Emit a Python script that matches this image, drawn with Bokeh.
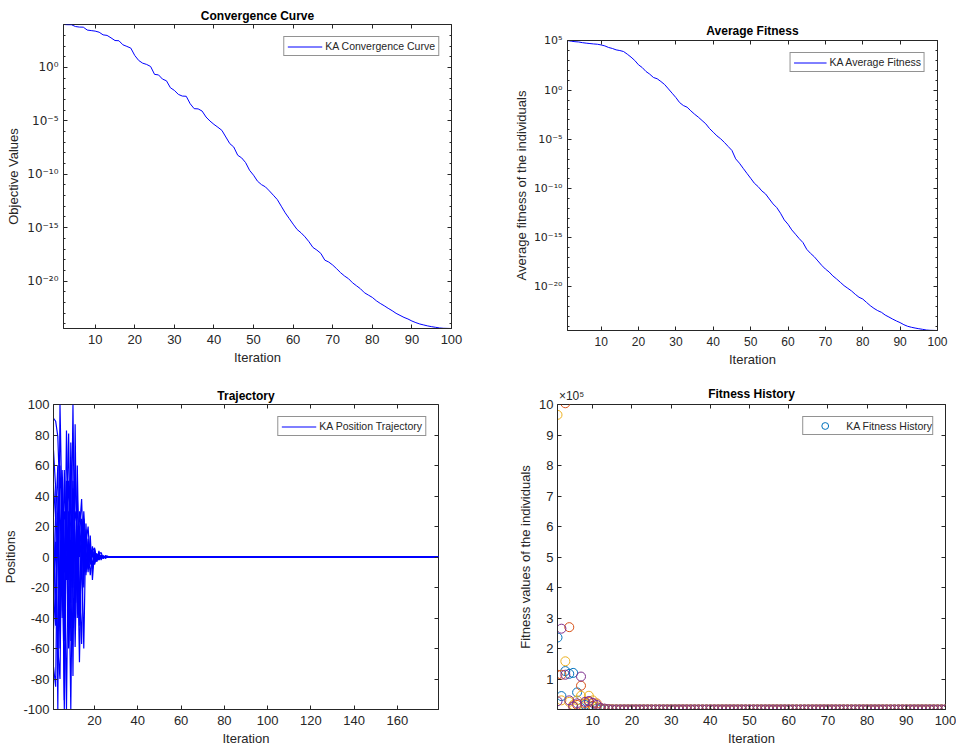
import numpy as np
from bokeh.plotting import figure
from bokeh.models import (Range1d, FixedTicker, LinearAxis, LogAxis, Legend, LegendItem, Spacer)
from bokeh.layouts import row, column
from bokeh.embed import file_html
from bokeh.resources import INLINE

# ---------------- data ----------------
# Convergence curve (best objective), iterations 2..100, log10 of value
conv_iter = list(range(2, 101))
conv_log10 = [4.02, 4.0, 4.0, 3.83, 3.78, 3.77, 3.5, 3.45, 3.4, 3.3, 3.05, 3.0, 2.77, 2.52,
              2.5, 2.12, 1.97, 1.81, 1.12, 0.65, 0.4, 0.28, 0.09, -0.65, -0.7, -1.09, -1.25,
              -1.9, -2.15, -2.52, -2.68, -2.7, -3.4, -3.86, -3.88, -4.08, -4.64, -5.02, -5.33,
              -5.6, -5.89, -6.51, -7.13, -7.45, -8.22, -8.47, -8.91, -9.63, -10.09, -10.65,
              -10.97, -11.18, -11.56, -11.96, -12.37, -12.99, -13.61, -14.14, -14.67, -15.17,
              -15.48, -15.86, -16.32, -16.85, -17.1, -17.41, -18.04, -18.22, -18.5, -18.85,
              -19.22, -19.53, -19.78, -20.16, -20.44, -20.72, -21.09, -21.31, -21.53, -21.84,
              -22.09, -22.31, -22.55, -22.77, -23.02, -23.21, -23.4, -23.55, -23.74, -23.89,
              -24.02, -24.11, -24.2, -24.27, -24.33, -24.39, -24.42, -24.43, -24.44]

# Average fitness, iterations 1..100, log10 of value
avg_iter = list(range(1, 101))
avg_log10 = [5.05, 4.98, 4.93, 4.9, 4.83, 4.78, 4.74, 4.7, 4.67, 4.6, 4.5, 4.34, 4.24, 4.1,
             4.03, 3.93, 3.66, 3.36, 3.02, 2.58, 2.3, 1.9, 1.63, 1.29, 1.16, 0.88, 0.57, 0.13,
             -0.31, -0.75, -1.26, -1.56, -1.73, -2.1, -2.44, -2.74, -3.08, -3.42, -3.9, -4.27,
             -4.65, -4.95, -5.32, -5.73, -6.13, -6.98, -7.42, -7.94, -8.45, -8.95, -9.46, -9.8,
             -10.24, -10.55, -11.06, -11.56, -11.94, -12.51, -13.19, -13.63, -14.2, -14.64,
             -15.09, -15.49, -16.17, -16.58, -16.92, -17.36, -17.8, -18.18, -18.48, -18.88,
             -19.19, -19.53, -19.87, -20.14, -20.41, -20.75, -21.05, -21.23, -21.57, -21.9,
             -22.18, -22.41, -22.58, -22.86, -23.06, -23.27, -23.46, -23.63, -23.84, -24.0,
             -24.1, -24.18, -24.25, -24.31, -24.38, -24.41, -24.42, -24.43]

# Trajectories (positions of agents), iterations 1..179; settled at 0 after the early phase
traj_iter = list(range(1, 180))
traj_early = [
    [91, 89, 79, 35, -25, 57, -15, 22, -30, 45, 12, -22, 18, 38, -6, 9, 20, -5, 4, 6, -2, 2, 3, -1, 1, 0.5, 0, 0],
    [70, 45, -100, 100, 25, -40, 83, 10, -100, 30, -59, 12, -69, 5, -60, 22, -8, 14, -15, 5, -3, 4, -2, 1, -1, 0.5, 0, 0],
    [47, 25, 60, -35, 30, -100, 15, 81, -20, 100, -30, 40, 0, 25, 10, -8, 12, -4, 7, -3, 2, -2, 1, -1, 0.5, 0, 0, 0],
    [-27, 30, 0, 60, 15, -94, 40, -15, 55, -78, 87, -40, 20, -10, 30, 5, -10, 8, -6, 3, -3, 1.5, -1, 0.5, 0, 0, 0, 0],
    [-47, -20, 25, -60, 57, 10, -100, 30, 20, -20, 57, 8, -30, 20, -10, 15, -5, 6, -8, 2, 2, -1, 1, 0, 0, 0, 0, 0],
    [-72, -85, 40, 20, -40, 30, 20, -45, 75, 20, -40, 60, -20, -57, 20, -10, 5, -12, 3, -5, 1, -2, 1, -0.5, 0, 0, 0, 0],
    [-20, 10, -60, -80, 45, -10, 50, -60, -20, 50, 10, -30, 30, 15, -20, 18, -6, 2, 5, -4, 2, -1, 0.5, 0, 0, 0, 0, 0],
    [20, -45, 15, -20, 30, -55, 25, 50, -55, -5, 30, 20, -45, 8, 25, -12, 8, -3, -6, 3, -1, 2, -1, 0.5, 0, 0, 0, 0],
]
traj_settled = 0.0

# Fitness history of 4 individuals, iterations 1..100 (first 15 read, then ~0)
fit_iter = list(range(1, 101))
fit_early = {
    "blue":   [236000, 44000, 126000, 117000, 120000, 56000, 5000, 15000, 2000, 10000, 3000, 1000, 500, 0, 0],
    "orange": [114000, 114000, 1004000, 270000, 10000, 15000, 78000, 20000, 25000, 12000, 20000, 5000, 2000, 1000, 0],
    "yellow": [966000, 30000, 158000, 25000, 15000, 30000, 45000, 10000, 45000, 30000, 10000, 5000, 2000, 1000, 500],
    "purple": [27000, 265000, 114000, 30000, 10000, 20000, 108000, 25000, 28000, 22000, 15000, 5000, 3000, 1000, 0],
}
fit_colors = {"blue": "#0072BD", "orange": "#D95319", "yellow": "#EDB120", "purple": "#7E2F8E"}

FONT = "Liberation Sans"
SUPFONT = "DejaVu Sans"
AX = "#262626"


def sup(n):
    table = str.maketrans("-0123456789", "⁻⁰¹²³⁴⁵⁶⁷⁸⁹")
    return "10" + str(n).translate(table)


def base_fig(width, height, left, right, top, bottom, x_range, y_range, log=False):
    p = figure(width=width, height=height, x_range=x_range, y_range=y_range,
               y_axis_type="log" if log else "linear", output_backend="svg",
               toolbar_location=None, tools="", title=None)
    p.min_border = 0
    p.min_border_left = left
    p.min_border_right = right
    p.min_border_top = top
    p.min_border_bottom = bottom
    p.background_fill_color = "white"
    p.border_fill_color = "white"
    p.outline_line_color = AX
    p.outline_line_width = 1
    p.xgrid.visible = False
    p.ygrid.visible = False
    return p


def style_axes(p, xticks, yticks, yminor, ylabel, ylabels, tick_font, title,
               title_standoff=2, log=False, ylab_font="13px", y_standoff=5, ylab_standoff=3,
               yfont=FONT, exp_label=None):
    xt = FixedTicker(ticks=xticks)
    yt = FixedTicker(ticks=yticks, minor_ticks=yminor)
    for ax in p.xaxis:
        ax.ticker = xt
        ax.axis_label = "Iteration"
        ax.major_label_overrides = {t: str(t) for t in xticks}
    for ax in p.yaxis:
        ax.ticker = yt
        ax.axis_label = ylabel
        ax.major_label_overrides = dict(zip(yticks, ylabels))
    for ax in list(p.xaxis) + list(p.yaxis):
        ax.axis_line_color = AX
        ax.major_tick_in = 4
        ax.major_tick_out = 0
        ax.minor_tick_in = 2
        ax.minor_tick_out = 0
        ax.major_tick_line_color = AX
        ax.major_label_text_font = FONT
        ax.major_label_text_font_size = tick_font
        ax.major_label_text_color = AX
        ax.axis_label_text_font = FONT
        ax.axis_label_text_font_style = "normal"
        ax.axis_label_text_color = AX
    for ax in p.xaxis:
        ax.minor_tick_line_color = None
        ax.major_label_standoff = 6
        ax.axis_label_standoff = 3
        ax.axis_label_text_font_size = "13px"
    for ax in p.yaxis:
        ax.minor_tick_line_color = AX if yminor else None
        ax.major_label_standoff = y_standoff
        ax.axis_label_standoff = ylab_standoff
        ax.axis_label_text_font_size = ylab_font
        ax.major_label_text_font = yfont

    # top: mirrored x ticks (drawn as minor ticks) + the title as the only labelled tick
    x0, x1 = p.x_range.start, p.x_range.end
    if exp_label is None:
        top_ticks, top_labels = [(x0 + x1) / 2], [title]
    else:
        top_ticks, top_labels = [exp_label[0]], [exp_label[1]]
    top = LinearAxis(ticker=FixedTicker(ticks=top_ticks, minor_ticks=xticks))
    top.major_label_overrides = dict(zip(top_ticks, top_labels))
    top.major_tick_line_color = None
    top.major_tick_in = 0
    top.major_tick_out = 0
    top.minor_tick_in = 4
    top.minor_tick_out = 0
    top.minor_tick_line_color = AX
    top.axis_line_color = None
    top.major_label_standoff = title_standoff
    top.major_label_text_font = FONT
    top.major_label_text_color = "black" if exp_label is None else AX
    top.major_label_text_font_size = "12px"
    top.major_label_text_font_style = "bold" if exp_label is None else "normal"
    if exp_label is not None:
        top.axis_label = title
        top.axis_label_text_font = FONT
        top.axis_label_text_font_size = "12px"
        top.axis_label_text_font_style = "bold"
        top.axis_label_text_color = "black"
        top.axis_label_standoff = -15
    p.add_layout(top, "above")

    # right: mirrored y ticks
    cls = LogAxis if log else LinearAxis
    if log:
        right = cls(ticker=FixedTicker(ticks=yticks, minor_ticks=yminor))
        right.major_label_overrides = {t: "" for t in yticks}
        right.major_label_text_font_size = "0px"
        right.major_tick_in = 4
        right.minor_tick_in = 2
        right.minor_tick_line_color = AX
    else:
        right = cls(ticker=FixedTicker(ticks=[], minor_ticks=yticks))
        right.minor_tick_in = 4
        right.minor_tick_line_color = AX
    right.major_label_standoff = 0
    right.axis_line_color = None
    right.major_tick_out = 0
    right.minor_tick_out = 0
    right.major_tick_line_color = AX
    p.add_layout(right, "right")


def add_legend(p, label, renderer, glyph_w=35, glyph_h=11, padding=3, standoff=3):
    lg = Legend(items=[LegendItem(label=label, renderers=[renderer])], location="top_right")
    lg.label_text_font = FONT
    lg.label_text_font_size = "10.5px"
    lg.label_text_color = AX
    lg.border_line_color = AX
    lg.border_line_width = 1
    lg.padding = padding
    lg.spacing = 0
    lg.margin = 12
    lg.glyph_width = glyph_w
    lg.glyph_height = glyph_h
    lg.label_height = 11
    lg.label_standoff = standoff
    lg.background_fill_color = "white"
    lg.background_fill_alpha = 1
    p.add_layout(lg)


# ---------------- Convergence Curve ----------------
conv_vals = [10.0 ** e for e in conv_log10]
p1 = base_fig(500, 380, 63, 49, 24, 52, Range1d(2, 100),
              Range1d(min(conv_vals), max(conv_vals)), log=True)
r1 = p1.line(conv_iter, conv_vals, line_color="#0000FF", line_width=1)
ex1 = [0, -5, -10, -15, -20]
style_axes(p1, list(range(10, 101, 10)), [10.0 ** e for e in ex1],
           [10.0 ** e for e in range(-24, 5)], "Objective Values", [sup(e) for e in ex1],
           "13px", "Convergence Curve", title_standoff=2, log=True, yfont=SUPFONT)
for ax in p1.yaxis:
    if ax.axis_label:
        ax.major_label_text_font_size = "12px"
add_legend(p1, "KA Convergence Curve", r1)

# ---------------- Average Fitness ----------------
# (placed 16px lower via a spacer so that both top-row plots share a 24px top border)
avg_vals = [10.0 ** e for e in avg_log10]
p2 = base_fig(456, 364, 67, 19, 24, 50, Range1d(1, 100),
              Range1d(min(avg_vals), max(avg_vals)), log=True)
r2 = p2.line(avg_iter, avg_vals, line_color="#0000FF", line_width=1)
ex2 = [5, 0, -5, -10, -15, -20]
style_axes(p2, list(range(10, 101, 10)), [10.0 ** e for e in ex2],
           [10.0 ** e for e in range(-24, 6)], "Average fitness of the individuals",
           [sup(e) for e in ex2], "12px", "Average Fitness", title_standoff=3, log=True,
           ylab_standoff=2, yfont=SUPFONT)
for ax in p2.yaxis:
    if ax.axis_label:
        ax.major_label_text_font_size = "11px"
add_legend(p2, "KA Average Fitness", r2, glyph_w=33)

# ---------------- Trajectory ----------------
p3 = base_fig(500, 371, 51, 62, 24, 42, Range1d(1, 179), Range1d(-100, 100))
r3 = None
for tr in traj_early:
    ys = tr + [traj_settled] * (len(traj_iter) - len(tr))
    r = p3.line(traj_iter, ys, line_color="#0000FF", line_width=1.2)
    if r3 is None:
        r3 = r
yt3 = list(range(-100, 101, 20))
style_axes(p3, list(range(20, 161, 20)), yt3, [], "Positions", [str(v) for v in yt3],
           "13px", "Trajectory", ylab_font="13px", y_standoff=4, ylab_standoff=2)
add_legend(p3, "KA Position Trajectory", r3)

# ---------------- Fitness History ----------------
p4 = base_fig(456, 371, 57, 11, 24, 42, Range1d(1, 100), Range1d(0, 1e6))
r4 = None
for key in ("blue", "orange", "yellow", "purple"):
    early = fit_early[key]
    ys = early + [0.0] * (len(fit_iter) - len(early))
    r = p4.scatter(fit_iter, ys, marker="circle", size=9, fill_color=None,
                   line_color=fit_colors[key], line_width=1)
    if r4 is None:
        r4 = r
yt4 = [v * 1e5 for v in range(1, 11)]
style_axes(p4, list(range(10, 101, 10)), yt4, [], "Fitness values of the individuals",
           [str(v) for v in range(1, 11)], "13px", "Fitness History",
           ylab_standoff=3, y_standoff=4, exp_label=(4.6, "×10⁵"))
add_legend(p4, "KA Fitness History", r4, glyph_w=43, glyph_h=17, padding=0, standoff=0)

layout = column(row(p1, column(Spacer(width=456, height=16), p2)), row(p3, p4))
open("out.html", "w").write(file_html(layout, INLINE))
